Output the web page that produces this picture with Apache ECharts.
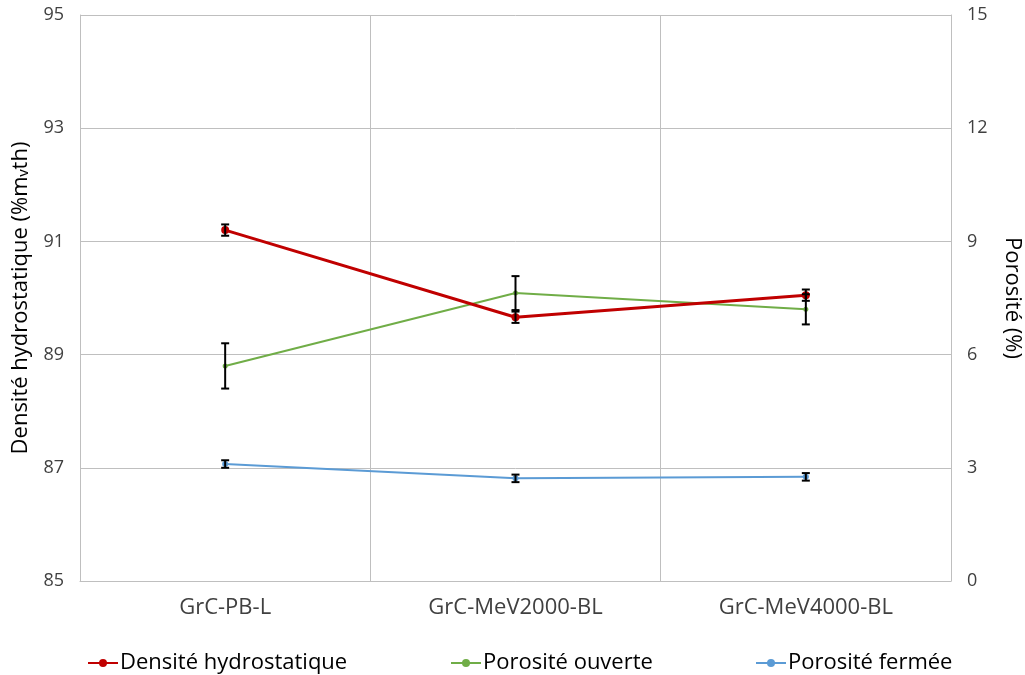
<!DOCTYPE html>
<html>
<head>
<meta charset="utf-8">
<script src="https://cdn.jsdelivr.net/npm/echarts@6/dist/echarts.min.js"></script>
<style>html,body{margin:0;padding:0;background:#fff;}#c{width:1025px;height:675px;}</style>
</head>
<body>
<div id="c"></div>
<script>
const categories = ['GrC-PB-L', 'GrC-MeV2000-BL', 'GrC-MeV4000-BL'];
const densite = [91.2, 89.66, 90.05];
const densiteErr = [0.1, 0.1, 0.1];
const porOuverte = [5.7, 7.63, 7.2];
const porOuverteErr = [0.6, 0.45, 0.4];
const porFermee = [3.1, 2.72, 2.76];
const porFermeeErr = [0.1, 0.1, 0.1];
const leftTicks = [85, 87, 89, 91, 93, 95];
const rightTicks = [0, 3, 6, 9, 12, 15];

const FONT = '"Open Sans", "Liberation Sans", sans-serif';

function errData(vals, errs) {
  return vals.map((v, i) => [i, v - errs[i], v + errs[i]]);
}
function errRender(params, api) {
  const lo = api.coord([api.value(0), api.value(1)]);
  const hi = api.coord([api.value(0), api.value(2)]);
  const w = 4;
  const st = { stroke: '#000', lineWidth: 2 };
  return {
    type: 'group',
    children: [
      { type: 'line', shape: { x1: lo[0], y1: lo[1], x2: hi[0], y2: hi[1] }, style: st },
      { type: 'line', shape: { x1: lo[0] - w, y1: lo[1], x2: lo[0] + w, y2: lo[1] }, style: st },
      { type: 'line', shape: { x1: hi[0] - w, y1: hi[1], x2: hi[0] + w, y2: hi[1] }, style: st }
    ]
  };
}

const chart = echarts.init(document.getElementById('c'));
const legendBase = {
  top: 647, itemWidth: 30, itemHeight: 10, itemGap: 4,
  textStyle: { fontFamily: FONT, fontSize: 22, color: '#000', padding: [0, 0, 0, -3] }
};
chart.setOption({
  animation: false,
  backgroundColor: '#fff',
  grid: { left: 80, right: 74, top: 15, bottom: 94, outerBoundsMode: 'none', containLabel: false },
  legend: [
    Object.assign({}, legendBase, { left: 82, data: ['Densité hydrostatique'] }),
    Object.assign({}, legendBase, { left: 445, data: ['Porosité ouverte'] }),
    Object.assign({}, legendBase, { left: 750, data: ['Porosité fermée'] })
  ],
  xAxis: {
    type: 'category', data: categories, boundaryGap: true,
    axisLine: { show: true, lineStyle: { color: '#bfbfbf', width: 1 } },
    axisTick: { show: false },
    splitLine: { show: true, lineStyle: { color: '#bfbfbf', width: 1 } },
    axisLabel: { fontFamily: FONT, fontSize: 22, color: '#404040', margin: 16 }
  },
  yAxis: [
    {
      type: 'value', min: leftTicks[0], max: leftTicks[leftTicks.length - 1], interval: 2,
      name: 'Densité hydrostatique (%mᵥth)', nameLocation: 'middle', nameGap: 48,
      nameTextStyle: { fontFamily: FONT, fontSize: 22, color: '#000' },
      axisLine: { show: true, lineStyle: { color: '#bfbfbf' } },
      axisTick: { show: false },
      splitLine: { lineStyle: { color: '#bfbfbf', width: 1 } },
      axisLabel: { fontFamily: FONT, fontSize: 18, color: '#404040', margin: 16 }
    },
    {
      type: 'value', min: rightTicks[0], max: rightTicks[rightTicks.length - 1], interval: 3,
      name: 'Porosité (%)', nameLocation: 'middle', nameGap: 50, nameRotate: -90,
      nameTextStyle: { fontFamily: FONT, fontSize: 22, color: '#000' },
      axisLine: { show: true, lineStyle: { color: '#bfbfbf' } },
      axisTick: { show: false },
      splitLine: { show: false },
      axisLabel: { fontFamily: FONT, fontSize: 18, color: '#404040', margin: 16 }
    }
  ],
  series: [
    {
      name: 'Densité hydrostatique', type: 'line', yAxisIndex: 0, data: densite,
      symbol: 'circle', symbolSize: 8,
      lineStyle: { color: '#c00000', width: 3 }, itemStyle: { color: '#c00000' }, z: 3
    },
    {
      name: 'Porosité ouverte', type: 'line', yAxisIndex: 1, data: porOuverte,
      symbol: 'circle', symbolSize: 5,
      lineStyle: { color: '#70ad47', width: 2 }, itemStyle: { color: '#70ad47' }, z: 2
    },
    {
      name: 'Porosité fermée', type: 'line', yAxisIndex: 1, data: porFermee,
      symbol: 'circle', symbolSize: 6,
      lineStyle: { color: '#5b9bd5', width: 2 }, itemStyle: { color: '#5b9bd5' }, z: 2
    },
    { type: 'custom', yAxisIndex: 0, data: errData(densite, densiteErr), renderItem: errRender, encode: { x: 0, y: [1, 2] }, z: 5 },
    { type: 'custom', yAxisIndex: 1, data: errData(porOuverte, porOuverteErr), renderItem: errRender, encode: { x: 0, y: [1, 2] }, z: 5 },
    { type: 'custom', yAxisIndex: 1, data: errData(porFermee, porFermeeErr), renderItem: errRender, encode: { x: 0, y: [1, 2] }, z: 5 }
  ]
});
</script>
</body>
</html>
